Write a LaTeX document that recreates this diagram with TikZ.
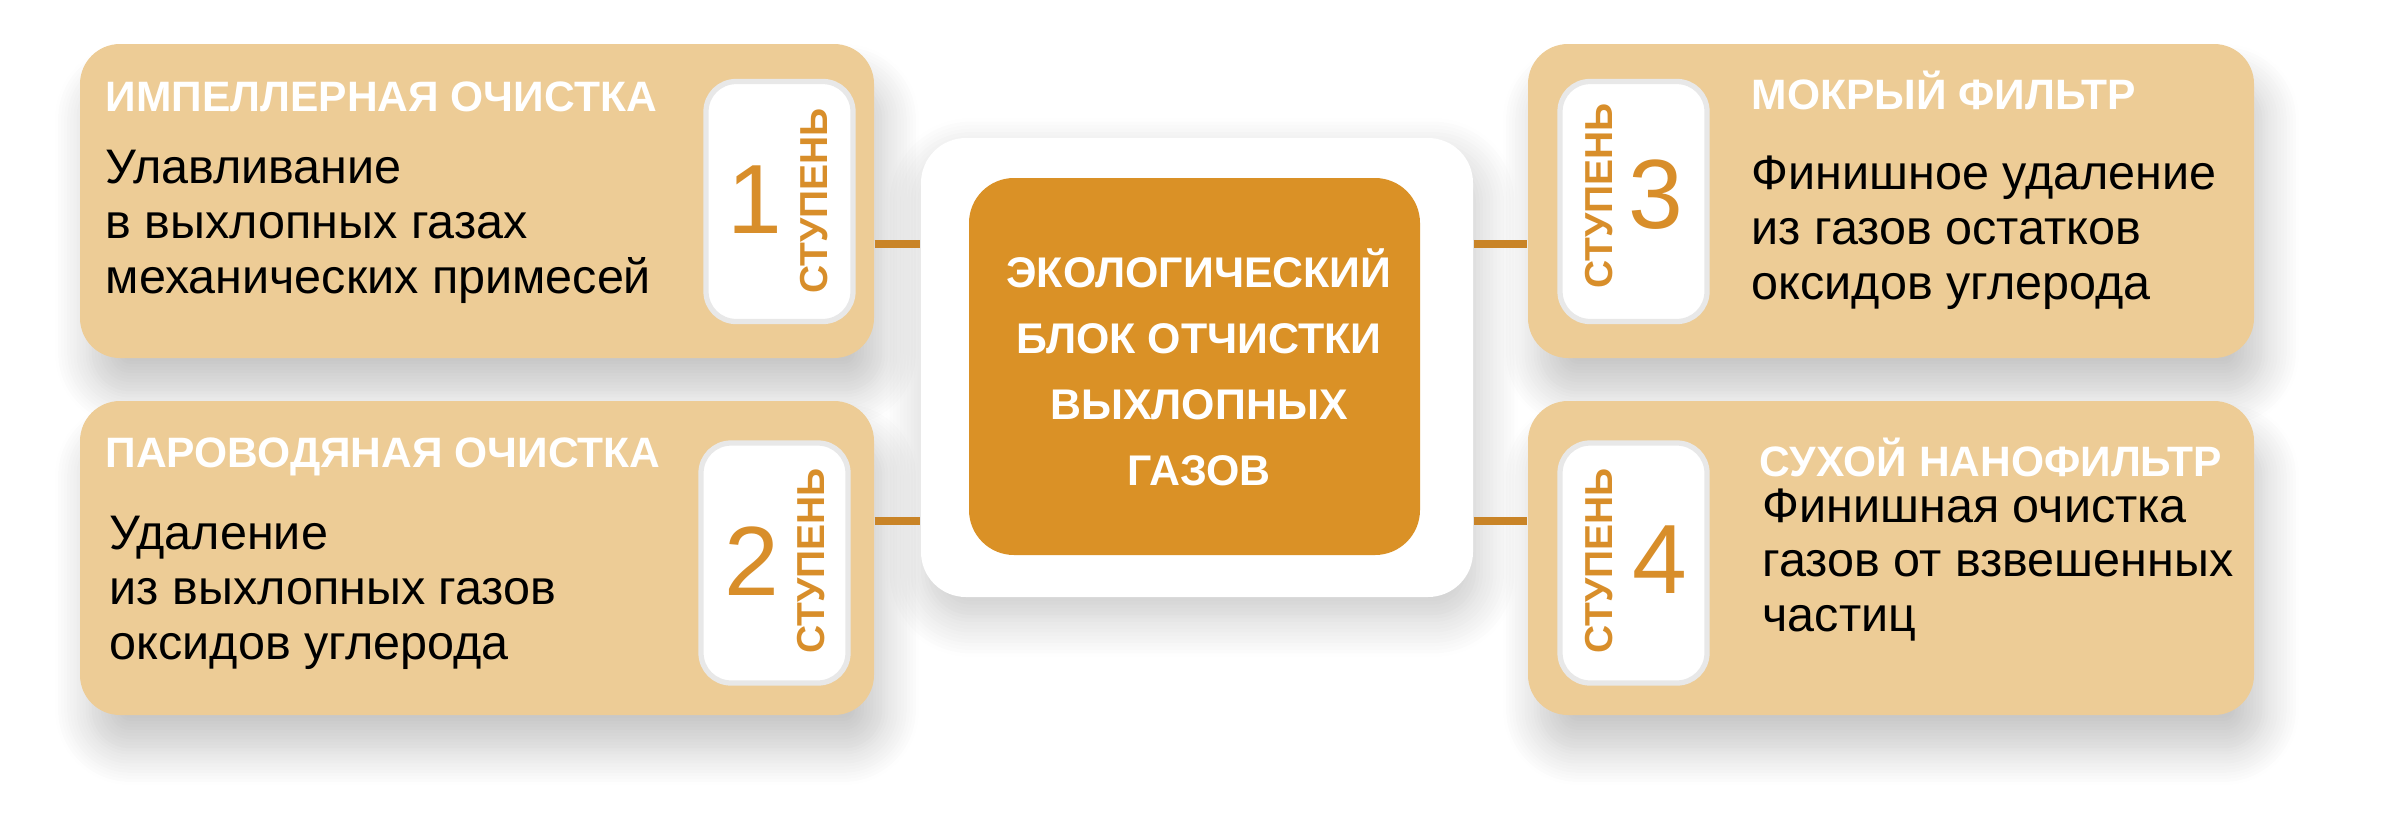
\documentclass[tikz,border=0pt]{standalone}
\usepackage{fontspec}
\setmainfont{Liberation Sans}
\usetikzlibrary{shadows.blur}

\definecolor{tan}{HTML}{EDCC96}
\definecolor{amber}{HTML}{DA9126}
\definecolor{wire}{HTML}{C98427}
\definecolor{stagetxt}{HTML}{D88E2A}

\tikzset{
  card/.style={fill=tan, rounded corners=0.4cm, inner sep=0pt, minimum height=3.14cm,
    blur shadow={shadow xshift=0.1cm, shadow yshift=-0.35cm, shadow blur radius=0.35cm,
      shadow blur steps=12, shadow opacity=22}},
  slot/.style={fill=white, draw=black!9, line width=1.5pt, rounded corners=0.3cm,
    inner sep=0pt, minimum width=1.47cm, minimum height=2.40cm},
  title/.style={anchor=west, inner sep=0pt, text=white, font=\bfseries\fontsize{12.1}{14}\selectfont},
  body/.style={anchor=west, inner sep=0pt, align=left, font=\fontsize{13.8}{15.6}\selectfont},
  digit/.style={inner sep=0pt, text=stagetxt, font=\fontsize{28}{30}\selectfont},
  stagelabel/.style={rotate=90, inner sep=0pt, text=stagetxt, font=\bfseries\fontsize{11.1}{12}\selectfont},
  link/.style={draw=wire, line width=2.3pt}
}

\begin{document}
\begin{tikzpicture}
  \useasboundingbox (0,0) rectangle (24.04,8.30);

  % links
  \coordinate (upper) at (0,5.86);
  \coordinate (lower) at (0,3.09);

  % centre block
  \node[fill=white, rounded corners=0.45cm, minimum width=5.52cm, minimum height=4.59cm,
    blur shadow={shadow xshift=0.05cm, shadow yshift=-0.2cm, shadow blur radius=0.4cm,
      shadow blur steps=12, shadow opacity=22}]
    (frame) at (11.97,4.625) {};
  \node[fill=amber, rounded corners=0.45cm, minimum width=4.51cm, minimum height=3.77cm]
    (core) at (11.945,4.635) {};
  \node[align=center, text=white, font=\bfseries\fontsize{12.2}{18.8}\selectfont]
    (coretext) at (11.99,4.625) {ЭКОЛОГИЧЕСКИЙ\\БЛОК ОТЧИСТКИ\\ВЫХЛОПНЫХ\\ГАЗОВ};

  % stage cards
  \node[card, minimum width=7.94cm] (imp)  at (4.77,6.29)  {};
  \node[card, minimum width=7.94cm] (steam) at (4.77,2.72) {};
  \node[card, minimum width=7.26cm] (wet)  at (18.91,6.29) {};
  \node[card, minimum width=7.26cm] (dry)  at (18.91,2.72) {};

  \draw[link] (imp.east |- upper) -- (frame.west |- upper);
  \draw[link] (steam.east |- lower) -- (frame.west |- lower);
  \draw[link] (frame.east |- upper) -- (wet.west |- upper);
  \draw[link] (frame.east |- lower) -- (dry.west |- lower);

  \node[slot] (s1) at (7.795,6.285) {};
  \node[slot] (s2) at (7.745,2.67) {};
  \node[slot] (s3) at (16.335,6.285) {};
  \node[slot] (s4) at (16.335,2.67) {};

  \node[digit] (n1) at (7.55,6.30) {1};
  \node[stagelabel] (l1) at (8.14,6.29) {СТУПЕНЬ};
  \node[digit] (n2) at (7.52,2.69) {2};
  \node[stagelabel] (l2) at (8.11,2.69) {СТУПЕНЬ};
  \node[digit] (n3) at (16.56,6.35) {3};
  \node[stagelabel] (l3) at (15.99,6.34) {СТУПЕНЬ};
  \node[digit] (n4) at (16.60,2.70) {4};
  \node[stagelabel] (l4) at (15.99,2.69) {СТУПЕНЬ};

  \node[title] (t1) at (1.05,7.33) {ИМПЕЛЛЕРНАЯ ОЧИСТКА};
  \node[body]  (b1) at (1.05,6.03) {Улавливание\\в выхлопных газах\\механических примесей};
  \node[title] (t2) at (1.05,3.73) {ПАРОВОДЯНАЯ ОЧИСТКА};
  \node[body]  (b2) at (1.09,2.37) {Удаление\\из выхлопных газов\\оксидов углерода};
  \node[title] (t3) at (17.51,7.40) {МОКРЫЙ ФИЛЬТР};
  \node[body]  (b3) at (17.51,5.97) {Финишное удаление\\из газов остатков\\оксидов углерода};
  \node[title] (t4) at (17.59,3.73) {СУХОЙ НАНОФИЛЬТР};
  \node[body]  (b4) at (17.62,2.65) {Финишная очистка\\газов от взвешенных\\частиц};
\end{tikzpicture}
\end{document}
